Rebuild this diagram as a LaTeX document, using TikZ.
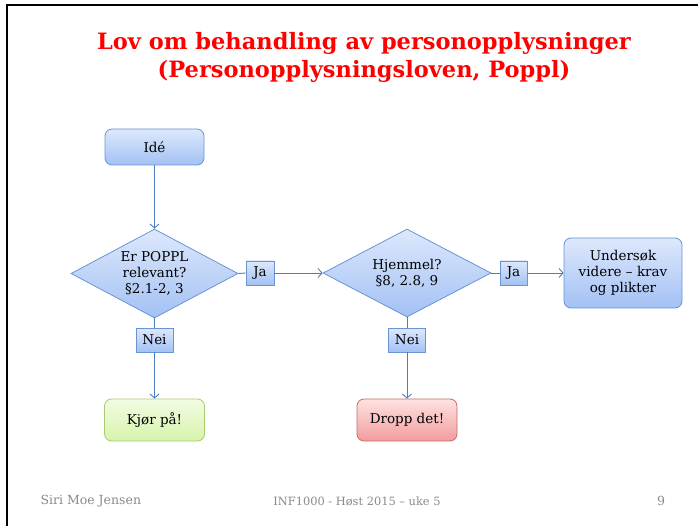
\documentclass[tikz,border=0pt]{standalone}
\usepackage{fontspec}
\setmainfont{DejaVu Serif}
\usetikzlibrary{shapes.geometric,arrows.meta}
\definecolor{lineblue}{HTML}{4A7EBB}
\definecolor{bluetop}{HTML}{DDE8FC}
\definecolor{bluebot}{HTML}{A3C1F4}
\definecolor{blueedge}{HTML}{6A94D4}
\definecolor{greentop}{HTML}{F3FCE4}
\definecolor{greenbot}{HTML}{D6F3AA}
\definecolor{greenedge}{HTML}{A9CB72}
\definecolor{redtop}{HTML}{FFE2E2}
\definecolor{redbot}{HTML}{F29C9C}
\definecolor{rededge}{HTML}{C86A6A}
\definecolor{footgray}{HTML}{8A8A8A}
\tikzset{
  bodyfont/.style={font=\fontsize{13.5}{16}\selectfont},
  bluebox/.style={draw=blueedge, line width=0.8pt, top color=bluetop, bottom color=bluebot, rounded corners=7pt, align=center, bodyfont, inner sep=0pt},
  greenbox/.style={draw=greenedge, line width=0.8pt, top color=greentop, bottom color=greenbot, rounded corners=7pt, align=center, bodyfont, inner sep=0pt},
  redbox/.style={draw=rededge, line width=0.8pt, top color=redtop, bottom color=redbot, rounded corners=7pt, align=center, bodyfont, inner sep=0pt},
  decision/.style={diamond, draw=blueedge, line width=0.8pt, top color=bluetop, bottom color=bluebot, align=center, bodyfont, inner sep=-20pt},
  tag/.style={draw=blueedge, line width=0.8pt, top color=bluetop, bottom color=bluebot, bodyfont, inner sep=0pt, minimum height=24pt},
  conn/.style={draw=lineblue, line width=0.9pt},
  arr/.style={conn, -{Straight Barb[length=4pt,width=9pt]}},
  foot/.style={text=footgray, font=\fontsize{12.5}{14}\selectfont},
}
\begin{document}
\begin{tikzpicture}[x=1pt,y=-1pt]
\useasboundingbox (0,0) rectangle (698,526);
\fill[white] (0,0) rectangle (698,526);
\draw[line width=1.6pt] (7,526) -- (7,5) -- (698,5);
% title
\node[text=red, font=\bfseries\fontsize{22.5}{28}\selectfont, align=center] (title) at (364,57) {Lov om behandling av personopplysninger\\(Personopplysningsloven, Poppl)};
% nodes
\node[bluebox, minimum width=99pt, minimum height=36pt] (ide) at (154.5,147) {Idé};
\node[decision, minimum width=167pt, minimum height=89pt] (d1) at (154.5,273.5) {Er POPPL\\relevant?\\§2.1-2, 3};
\node[tag, minimum width=28pt] (ja1) at (260,273) {Ja};
\node[decision, minimum width=168pt, minimum height=88pt] (d2) at (407,273) {Hjemmel?\\§8, 2.8, 9};
\node[tag, minimum width=27pt] (ja2) at (513.5,273) {Ja};
\node[bluebox, minimum width=118pt, minimum height=70pt] (und) at (623,273) {Undersøk\\videre – krav\\og plikter};
\node[tag, minimum width=37pt] (nei1) at (154.5,340) {Nei};
\node[tag, minimum width=37pt] (nei2) at (407,340) {Nei};
\node[greenbox, minimum width=100pt, minimum height=42pt] (kjor) at (154.5,420) {Kjør på!};
\node[redbox, minimum width=100pt, minimum height=42pt] (dropp) at (407,420) {Dropp det!};
% connectors
\draw[arr] (ide) -- (d1);
\draw[conn] (d1.east) -- (ja1.west);
\draw[arr] (ja1.east) -- (d2.west);
\draw[conn] (d2.east) -- (ja2.west);
\draw[arr] (ja2.east) -- (und.west);
\draw[conn] (d1.south) -- (nei1.north);
\draw[arr] (nei1.south) -- (kjor.north);
\draw[conn] (d2.south) -- (nei2.north);
\draw[arr] (nei2.south) -- (dropp.north);
% footer
\node[foot, anchor=west] (author) at (37,501) {Siri Moe Jensen};
\node[foot, font=\fontsize{11.4}{14}\selectfont] (course) at (357,501) {INF1000 - Høst 2015 – uke 5};
\node[foot] (page) at (661,501) {9};
\end{tikzpicture}
\end{document}
